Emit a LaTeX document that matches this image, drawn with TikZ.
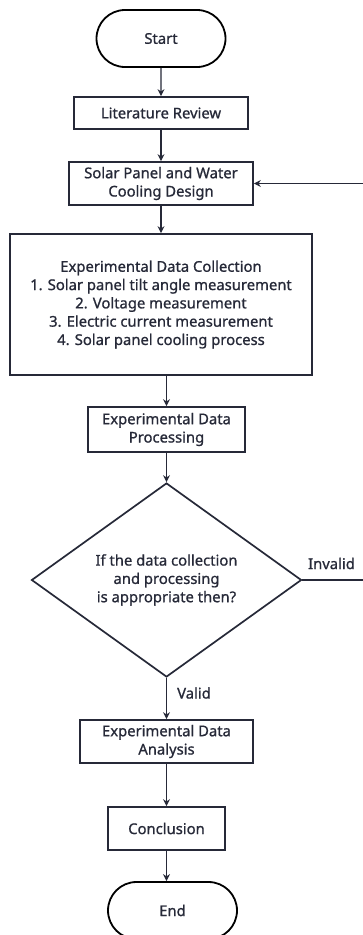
\documentclass[tikz,border=0pt]{standalone}
\usepackage{fontspec}
\setmainfont{Noto Sans}[FakeBold=0.9]
\usetikzlibrary{shapes.geometric,shapes.misc,arrows.meta}
\definecolor{ink}{HTML}{262938}
\begin{document}
\begin{tikzpicture}[x=1pt,y=-1pt,
  txt/.style={text=ink, align=center, font=\fontsize{14.8}{18.3}\selectfont},
  box/.style={txt, draw=ink, line width=1.7pt, inner sep=0pt},
  term/.style={txt, draw=black, line width=1.8pt, rounded rectangle, inner sep=0pt, minimum width=129pt, minimum height=57pt},
  arr/.style={draw=ink, line width=1.1pt, -{Stealth[length=7pt,width=7pt]}},
  lbl/.style={txt}]
\useasboundingbox (0,0) rectangle (362,935);
\fill[white] (0,0) rectangle (362,935);
\node[term] (start) at (161,38.5) {Start};
\node[box, minimum width=174pt, minimum height=32pt] (lit) at (161,113) {Literature Review};
\node[box, minimum width=184pt, minimum height=43pt] (solar) at (161,183.5) {Solar Panel and Water\\Cooling Design};
\node[box, minimum width=302pt, minimum height=141pt] (coll) at (161,304.5) {Experimental Data Collection\\1. Solar panel tilt angle measurement\\2. Voltage measurement\\3. Electric current measurement\\4. Solar panel cooling process};
\node[box, minimum width=157pt, minimum height=45pt] (proc) at (166.5,429.5) {Experimental Data\\Processing};
\node[txt, draw=ink, line width=1.7pt, diamond, inner sep=0pt, aspect=1.39, minimum width=270pt, minimum height=194pt] (dec) at (166.5,580) {If the data collection\\and processing\\is appropriate then?};
\node[box, minimum width=173pt, minimum height=43pt] (ana) at (166.5,741.5) {Experimental Data\\Analysis};
\node[box, minimum width=117pt, minimum height=43pt] (conc) at (166.5,828.5) {Conclusion};
\node[term] (end) at (172.5,910.5) {End};
\node[lbl] (inv) at (331.5,563.5) {Invalid};
\node[lbl] (val) at (194,693) {Valid};
\coordinate (r1) at (372,580);
\coordinate (r2) at (372,183.5);
\draw[arr] (start) -- (lit);
\draw[arr] (lit) -- (solar);
\draw[arr] (solar) -- (coll);
\draw[arr] (coll.south -| proc.north) -- (proc.north);
\draw[arr] (proc) -- (dec);
\draw[arr] (dec) -- (ana);
\draw[arr] (ana) -- (conc);
\draw[arr] (conc.south) -- (conc.south |- end.north);
\draw[arr] (dec.east) -- (r1) -- (r2) -- (solar.east);
\end{tikzpicture}
\end{document}
